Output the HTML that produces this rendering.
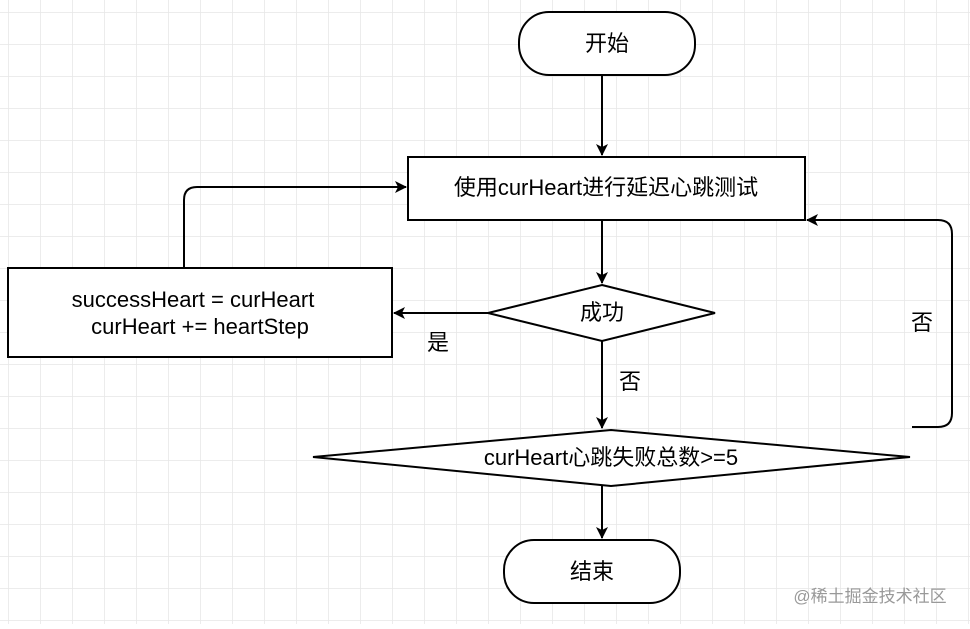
<!DOCTYPE html>
<html><head><meta charset="utf-8"><style>
body{margin:0;width:970px;height:624px;overflow:hidden;background:#fff;}
</style></head><body>
<svg width="970" height="624" xmlns="http://www.w3.org/2000/svg" font-family="Liberation Sans, Noto Sans CJK SC, sans-serif">
<defs>
<pattern id="g" x="8" y="12" width="32" height="32" patternUnits="userSpaceOnUse">
<path d="M0 0H32M0 0V32" stroke="#e6e6e6" stroke-width="1.5" fill="none"/>
</pattern>
<marker id="a" markerWidth="12" markerHeight="12" refX="11" refY="6" orient="auto" markerUnits="userSpaceOnUse"><path d="M0 0L12 6L0 12L3 6Z" fill="#000"/></marker>
</defs>
<rect width="970" height="624" fill="url(#g)"/>
<g stroke="#000" stroke-width="2" fill="#fff">
<rect x="519" y="12" width="176" height="63" rx="30"/>
<rect x="408" y="157" width="397" height="63"/>
<rect x="8" y="268" width="384" height="89"/>
<polygon points="602,285 715,313 602,341 488,313"/>
<polygon points="611,430 910,457 611,486 313,457"/>
<rect x="504" y="540" width="176" height="63" rx="30"/>
</g>
<g stroke="#000" stroke-width="2" fill="none">
<path d="M602 75V155" marker-end="url(#a)"/>
<path d="M602 220V283" marker-end="url(#a)"/>
<path d="M488 313H394" marker-end="url(#a)"/>
<path d="M602 341V428" marker-end="url(#a)"/>
<path d="M602 486V538" marker-end="url(#a)"/>
<path d="M184 268V200Q184 187 197 187H406" marker-end="url(#a)"/>
<path d="M912 427H938Q952 427 952 413V234Q952 220 938 220H807" marker-end="url(#a)"/>
</g>
<g font-size="22" fill="#000" text-anchor="middle">
<text x="607" y="51">开始</text>
<text x="606" y="195">使用curHeart进行延迟心跳测试</text>
<text x="193" y="307">successHeart = curHeart</text>
<text x="200" y="334">curHeart += heartStep</text>
<text x="602" y="320">成功</text>
<text x="438" y="350">是</text>
<text x="630" y="389">否</text>
<text x="922" y="330">否</text>
<text x="611" y="465">curHeart心跳失败总数&gt;=5</text>
<text x="592" y="579">结束</text>
</g>
<text x="870" y="602" font-size="17" fill="#999" text-anchor="middle">@稀土掘金技术社区</text>
</svg>
</body></html>
